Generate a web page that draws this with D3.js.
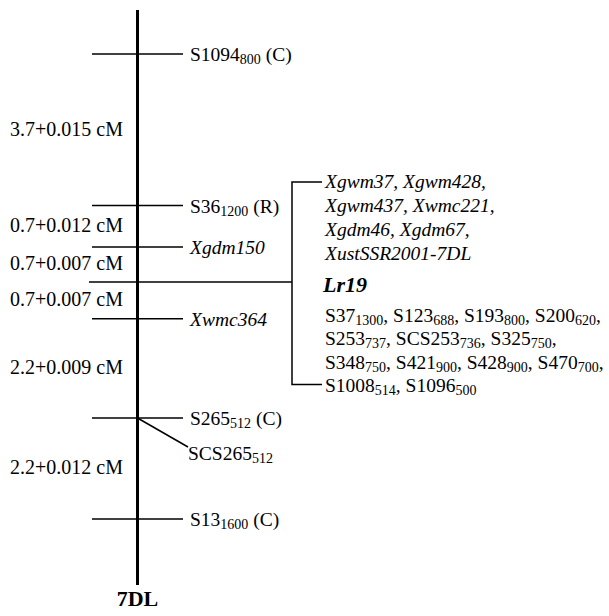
<!DOCTYPE html>
<html>
<head>
<meta charset="utf-8">
<script src="https://cdn.jsdelivr.net/npm/d3@7"></script>
<style>
  html, body { margin: 0; padding: 0; background: #fff; }
  svg { display: block; }
</style>
</head>
<body>
<svg id="chart" width="609" height="616"></svg>
<script>
// ---- data ----
// marker names (subscripts written as _{...}) and their relative positions along the drawn 7DL map (0-100)
const markerNames = ["S1094_{800} (C)", "S36_{1200} (R)", "Xgdm150", "Lr19", "Xwmc364", "S265_{512} (C)", "S13_{1600} (C)"];
const markerPositions = [7.65, 34.0, 41.2, 47.3, 53.7, 70.96, 88.5];
const markerItalic = [false, false, true, true, true, false, false];
// genetic distances between consecutive markers
const intervalLabels = ["3.7+0.015 cM", "0.7+0.012 cM", "0.7+0.007 cM", "0.7+0.007 cM", "2.2+0.009 cM", "2.2+0.012 cM"];
// marker co-segregating with S265
const coMarker = "SCS265_{512}";
// markers co-segregating with Lr19
const lr19SSR = ["Xgwm37, Xgwm428,", "Xgwm437, Xwmc221,", "Xgdm46, Xgdm67,", "XustSSR2001-7DL"];
const lr19SCAR = ["S37_{1300}, S123_{688}, S193_{800}, S200_{620},",
                  "S253_{737}, SCS253_{736}, S325_{750},",
                  "S348_{750}, S421_{900}, S428_{900}, S470_{700},",
                  "S1008_{514}, S1096_{500}"];
const chromosomeName = "7DL";

// ---- drawing ----
const FONT = "'Liberation Serif', Tinos, 'Times New Roman', 'DejaVu Serif', serif";
const svg = d3.select("#chart").attr("font-family", FONT);
const y = d3.scaleLinear().domain([0, 100]).range([10, 585]);
const cx = 137.5;
const FS = 19.5;
const SUB = 14;

function richText(sel, str) {
  const parts = [];
  const re = /_\{([^}]*)\}/g;
  let last = 0, m;
  while ((m = re.exec(str)) !== null) {
    if (m.index > last) parts.push({t: str.slice(last, m.index), sub: false});
    parts.push({t: m[1], sub: true});
    last = re.lastIndex;
  }
  if (last < str.length) parts.push({t: str.slice(last), sub: false});
  let shifted = false;
  parts.forEach(p => {
    const ts = sel.append("tspan").text(p.t);
    if (p.sub) {
      ts.attr("font-size", SUB).attr("dy", shifted ? 0 : 3);
      shifted = true;
    } else {
      if (shifted) { ts.attr("dy", -3); shifted = false; }
    }
  });
  return sel;
}

// chromosome
svg.append("line")
  .attr("x1", cx).attr("x2", cx)
  .attr("y1", y(0)).attr("y2", y(100))
  .attr("stroke", "#000").attr("stroke-width", 3);

// marker ticks and labels
const bracketX = 292;
markerNames.forEach((name, i) => {
  const yy = y(markerPositions[i]);
  const isLr = name === "Lr19";
  svg.append("line")
    .attr("x1", isLr ? 89 : 92).attr("x2", isLr ? bracketX : 183)
    .attr("y1", yy).attr("y2", yy)
    .attr("stroke", "#000").attr("stroke-width", 1.5);
  if (!isLr) {
    const t = svg.append("text")
      .attr("x", 190).attr("y", yy + 7)
      .attr("font-family", FONT)
      .attr("font-size", FS)
      .attr("font-style", markerItalic[i] ? "italic" : "normal");
    richText(t, name);
  }
});

// co-segregating marker at S265
{
  const yy = y(markerPositions[5]);
  svg.append("line")
    .attr("x1", cx).attr("y1", yy)
    .attr("x2", 188).attr("y2", yy + 29)
    .attr("stroke", "#000").attr("stroke-width", 1.5);
  const t = svg.append("text").attr("x", 188).attr("y", yy + 42)
    .attr("font-family", FONT).attr("font-size", FS);
  richText(t, coMarker);
}

// interval labels
intervalLabels.forEach((lab, i) => {
  const mid = (y(markerPositions[i]) + y(markerPositions[i + 1])) / 2;
  svg.append("text")
    .attr("x", 123).attr("y", mid + 6)
    .attr("text-anchor", "end")
    .attr("font-family", FONT)
    .attr("font-size", 20)
    .text(lab);
});

// Lr19 cluster
const lrY = y(markerPositions[3]);
const lh = 24;
const firstBase = lrY - 94;
const ssrBases = lr19SSR.map((d, i) => firstBase + i * lh);
const lrBase = ssrBases[ssrBases.length - 1] + 32;
const scarBases = lr19SCAR.map((d, i) => lrBase + 30 + i * 23.5);
const topY = ssrBases[0] - 6, botY = scarBases[scarBases.length - 1] - 8;

svg.append("path")
  .attr("d", `M${bracketX + 30},${topY} H${bracketX} V${botY} H${bracketX + 30}`)
  .attr("fill", "none").attr("stroke", "#000").attr("stroke-width", 1.5);

lr19SSR.forEach((s, i) => {
  svg.append("text").attr("x", 325).attr("y", ssrBases[i])
    .attr("font-family", FONT)
    .attr("font-size", FS).attr("font-style", "italic").text(s);
});
svg.append("text").attr("x", 323).attr("y", lrBase)
  .attr("font-family", FONT)
  .attr("font-size", 22).attr("font-style", "italic").attr("font-weight", "bold")
  .text("Lr19");
lr19SCAR.forEach((s, i) => {
  const t = svg.append("text").attr("x", 325).attr("y", scarBases[i])
    .attr("font-family", FONT).attr("font-size", FS);
  richText(t, s);
});

// chromosome name
svg.append("text")
  .attr("x", cx).attr("y", 606)
  .attr("text-anchor", "middle")
  .attr("font-family", FONT)
  .attr("font-size", 22).attr("font-weight", "bold")
  .text(chromosomeName);
</script>
</body>
</html>
